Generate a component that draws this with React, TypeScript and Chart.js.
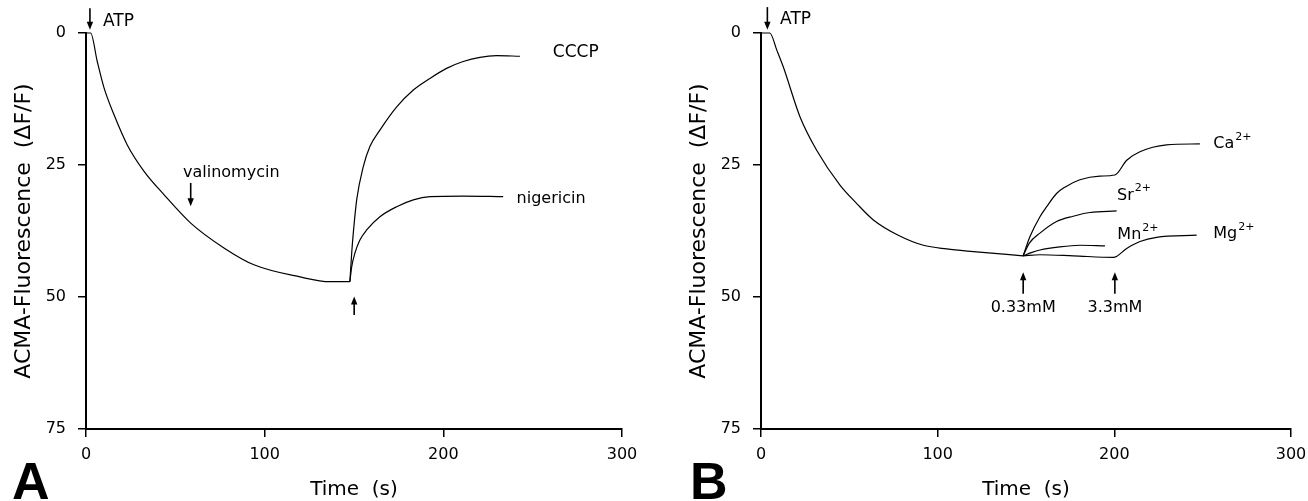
import { useEffect, useRef } from "react";
import { Chart, registerables } from "chart.js";

Chart.register(...registerables);

// ---------- data ----------
const xTickValues = [0, 100, 200, 300];
const yTickValues = [0, 25, 50, 75];
const xTitle = "Time  (s)";
const yTitle = "ACMA-Fluorescence  (ΔF/F)";

// Panel A
const timeA = [0, 2.6, 6.3, 10.1, 15.7, 23.1, 32.5, 43.6, 58.6, 77.2, 94, 119.8, 136.5, 147.7];
const fluorA = [0, 0, 5.4, 10.4, 15.5, 21.2, 26.2, 30.6, 36.0, 40.7, 43.9, 46.2, 47.1, 47.1];
const timeCCCP = [147.7, 148.7, 149.6, 151.5, 155.2, 158.9, 164.5, 173.9, 183.2, 192.5, 201.8, 211.1, 220.5, 229.8, 242.9];
const fluorCCCP = [47.1, 41.7, 37.9, 31.6, 25.3, 21.5, 18.4, 14, 10.8, 8.6, 6.7, 5.4, 4.6, 4.3, 4.4];
const timeNig = [147.7, 148.7, 150.5, 153.3, 157.1, 164.5, 173.9, 183.2, 192.5, 211.1, 233.5];
const fluorNig = [47.1, 44.3, 41.7, 39.2, 37.3, 34.8, 32.9, 31.6, 31, 30.9, 31];

// Panel B
const timeB = [0, 5, 8.9, 12.6, 22.1, 31.5, 44.7, 54.2, 63.6, 77.7, 91.9, 105.1, 120.2, 148.4];
const fluorB = [0, 0, 3.2, 6.4, 15.9, 22.2, 28.8, 32.3, 35.4, 38.3, 40.2, 40.9, 41.4, 42.2];
const timeCa = [148.4, 152.2, 157.9, 161.7, 167.3, 172, 180.5, 191.8, 200.3, 207, 214.5, 229.6, 248.4];
const fluorCa = [42.2, 38.6, 34.8, 32.9, 30.4, 29.2, 27.8, 27.1, 26.9, 24.1, 22.5, 21.2, 21];
const timeSr = [148.4, 151.9, 157.9, 167.3, 176.7, 186.2, 201.3];
const fluorSr = [42.2, 39.8, 37.9, 35.7, 34.7, 34, 33.7];
const timeMn = [148.4, 153, 157.9, 169.2, 180.5, 194.7];
const fluorMn = [42.2, 41.6, 41.1, 40.5, 40.2, 40.3];
const timeMg = [148.4, 157.9, 176.7, 199.5, 207, 214.5, 223.9, 246.6];
const fluorMg = [42.2, 42, 42.2, 42.5, 40.8, 39.5, 38.7, 38.3];

// annotations (data units)
const arrowsA = [
  { x: 2.2, from: -4.7, to: -0.6 },
  { x: 58.6, from: 28.4, to: 32.8 },
  { x: 150.1, from: 53.4, to: 49.9 },
];
const labelsA = [
  { x: 9.5, y: -2.1, text: "ATP", size: 17 },
  { x: 54.3, y: 26.5, text: "valinomycin" },
  { x: 261.3, y: 3.8, text: "CCCP", size: 17 },
  { x: 241, y: 31.4, text: "nigericin" },
];
const arrowsB = [
  { x: 3.6, from: -4.9, to: -0.6 },
  { x: 148.4, from: 49.4, to: 45.3 },
  { x: 200.3, from: 49.4, to: 45.3 },
];
const labelsB = [
  { x: 10.8, y: -2.5, text: "ATP", size: 17 },
  { x: 148.4, y: 52.1, text: "0.33mM", align: "center" },
  { x: 200.3, y: 52.1, text: "3.3mM", align: "center" },
  { x: 256, y: 21, text: "Ca", sup: "2+" },
  { x: 201.5, y: 30.8, text: "Sr", sup: "2+" },
  { x: 201.7, y: 38.3, text: "Mn", sup: "2+" },
  { x: 256, y: 38.1, text: "Mg", sup: "2+" },
];

const FONT = '"DejaVu Sans", sans-serif';

function pts(t: number[], v: number[]) {
  return t.map((x, i) => ({ x, y: v[i] }));
}

function ds(t: number[], v: number[]) {
  return {
    data: pts(t, v),
    borderColor: "#000",
    borderWidth: 1.2,
    pointRadius: 0,
    fill: false,
    cubicInterpolationMode: "monotone" as const,
    clip: false as any,
  };
}

type PanelProps = {
  left: number;
  width: number;
  yWidth: number;
  rightPad: number;
  titlePad: number;
  series: { t: number[]; v: number[] }[];
  arrows: { x: number; from: number; to: number }[];
  labels: { x: number; y: number; text: string; size?: number; align?: string; sup?: string }[];
  letter: string;
  letterX: number;
};

function Panel(p: PanelProps) {
  const ref = useRef<HTMLCanvasElement>(null);
  useEffect(() => {
    const annot = {
      id: "annot",
      afterDatasetsDraw(chart: any) {
        const ctx = chart.ctx;
        const xs = chart.scales.x;
        const ys = chart.scales.y;
        ctx.save();
        ctx.fillStyle = "#000";
        ctx.strokeStyle = "#000";
        for (const a of p.arrows) {
          const px = xs.getPixelForValue(a.x);
          const y1 = ys.getPixelForValue(a.from);
          const y2 = ys.getPixelForValue(a.to);
          const dir = Math.sign(y2 - y1);
          ctx.lineWidth = 1.6;
          ctx.beginPath();
          ctx.moveTo(px, y1);
          ctx.lineTo(px, y2 - dir * 5);
          ctx.stroke();
          ctx.beginPath();
          ctx.moveTo(px, y2);
          ctx.lineTo(px - 3.2, y2 - dir * 8);
          ctx.lineTo(px + 3.2, y2 - dir * 8);
          ctx.closePath();
          ctx.fill();
        }
        ctx.textBaseline = "middle";
        for (const l of p.labels) {
          const size = l.size || 16;
          ctx.font = `${size}px ${FONT}`;
          ctx.textAlign = (l.align as CanvasTextAlign) || "left";
          const px = xs.getPixelForValue(l.x);
          const py = ys.getPixelForValue(l.y);
          ctx.fillText(l.text, px, py);
          if (l.sup) {
            const w = ctx.measureText(l.text).width;
            ctx.font = `11px ${FONT}`;
            ctx.textAlign = "left";
            ctx.fillText(l.sup, px + w + 1, py - 7);
          }
        }
        ctx.font = `bold 52px "Liberation Sans", Arial, sans-serif`;
        ctx.textAlign = "left";
        ctx.textBaseline = "alphabetic";
        ctx.fillText(p.letter, p.letterX, 499);
        ctx.restore();
      },
    };

    const chart = new Chart(ref.current!, {
      type: "line",
      data: { datasets: p.series.map((s) => ds(s.t, s.v)) as any },
      options: {
        responsive: false,
        animation: false,
        events: [],
        layout: { padding: { left: 0, top: 33, right: p.rightPad, bottom: 0 } },
        plugins: { legend: { display: false }, tooltip: { enabled: false } },
        scales: {
          x: {
            type: "linear",
            min: 0,
            max: 300,
            afterBuildTicks: (s: any) => {
              s.ticks = xTickValues.map((value) => ({ value }));
            },
            ticks: {
              color: "#000",
              font: { family: FONT, size: 16, lineHeight: 1 },
              padding: 10,
              maxRotation: 0,
              autoSkip: false,
            },
            grid: {
              drawOnChartArea: false,
              drawTicks: true,
              tickLength: 8,
              color: "#000",
              lineWidth: 1.5,
            },
            border: { display: true, color: "#000", width: 2 },
            title: {
              display: true,
              text: xTitle,
              color: "#000",
              font: { family: FONT, size: 20, lineHeight: 1 },
              padding: { top: 0, bottom: 1 },
            },
            afterFit: (s: any) => {
              s.height = 72;
              s.paddingLeft = 0;
              s.paddingRight = 0;
            },
          } as any,
          y: {
            type: "linear",
            min: 0,
            max: 75,
            reverse: true,
            afterBuildTicks: (s: any) => {
              s.ticks = yTickValues.map((value) => ({ value }));
            },
            ticks: {
              color: "#000",
              font: { family: FONT, size: 16 },
              padding: 12,
              autoSkip: false,
            },
            grid: {
              drawOnChartArea: false,
              drawTicks: true,
              tickLength: 8,
              color: "#000",
              lineWidth: 1.5,
            },
            border: { display: true, color: "#000", width: 2 },
            title: {
              display: true,
              text: yTitle,
              color: "#000",
              font: { family: FONT, size: 22, lineHeight: 1 },
              padding: { top: p.titlePad, bottom: 0 },
            },
            afterFit: (s: any) => {
              s.width = p.yWidth;
              s.paddingTop = 0;
              s.paddingBottom = 0;
            },
          } as any,
        },
      },
      plugins: [annot],
    });
    return () => chart.destroy();
  }, []);
  return (
    <canvas
      ref={ref}
      width={p.width}
      height={501}
      style={{ position: "absolute", left: p.left, top: 0, width: p.width, height: 501 }}
    />
  );
}

export default function App() {
  return (
    <div
      style={{
        position: "fixed",
        left: 0,
        top: 0,
        width: 1308,
        height: 501,
        background: "#fff",
        overflow: "hidden",
      }}
    >
      <Panel
        left={0}
        width={654}
        yWidth={86}
        rightPad={32}
        titlePad={13}
        series={[
          { t: timeA, v: fluorA },
          { t: timeCCCP, v: fluorCCCP },
          { t: timeNig, v: fluorNig },
        ]}
        arrows={arrowsA}
        labels={labelsA}
        letter="A"
        letterX={12}
      />
      <Panel
        left={654}
        width={654}
        yWidth={107}
        rightPad={17}
        titlePad={34}
        series={[
          { t: timeB, v: fluorB },
          { t: timeCa, v: fluorCa },
          { t: timeSr, v: fluorSr },
          { t: timeMn, v: fluorMn },
          { t: timeMg, v: fluorMg },
        ]}
        arrows={arrowsB}
        labels={labelsB}
        letter="B"
        letterX={36}
      />
    </div>
  );
}
